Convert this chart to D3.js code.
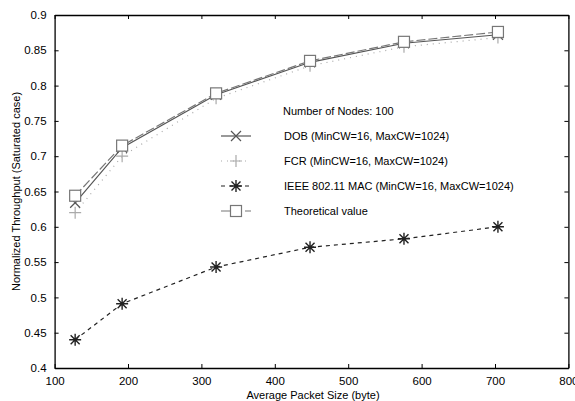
<!DOCTYPE html>
<html>
<head>
<meta charset="utf-8">
<script src="https://cdn.jsdelivr.net/npm/d3@7"></script>
<style>
  body { margin: 0; background: #fff; }
  svg text { font-family: "Liberation Sans", Arial, sans-serif; fill: #000; }
</style>
</head>
<body>
<div id="chart"></div>
<script>
var W = 575, H = 401;

// data
var packetSizes = [128, 192, 320, 448, 576, 704];
var dobValues = [0.634, 0.712, 0.787, 0.833, 0.860, 0.872];
var fcrValues = [0.620, 0.700, 0.782, 0.828, 0.855, 0.868];
var ieeeValues = [0.440, 0.491, 0.543, 0.571, 0.583, 0.600];
var theoryValues = [0.644, 0.715, 0.789, 0.835, 0.862, 0.876];

var xTicks = [100, 200, 300, 400, 500, 600, 700, 800];
var yTicks = [0.4, 0.45, 0.5, 0.55, 0.6, 0.65, 0.7, 0.75, 0.8, 0.85, 0.9];

var legendTitle = 'Number of Nodes: 100';
var seriesNames = ['DOB (MinCW=16, MaxCW=1024)', 'FCR (MinCW=16, MaxCW=1024)',
  'IEEE 802.11 MAC (MinCW=16, MaxCW=1024)', 'Theoretical value'];

var series = [
  { name: seriesNames[0], values: dobValues, color: '#555', dash: null, marker: 'x' },
  { name: seriesNames[1], values: fcrValues, color: '#aaa', dash: '1,5', marker: 'plus' },
  { name: seriesNames[2], values: ieeeValues, color: '#222', dash: '4,4', marker: 'star' },
  { name: seriesNames[3], values: theoryValues, color: '#777', dash: '9,3', marker: 'square' }
];

// plot box (window.top is read-only, so no "top" here)
var plotL = 54.6, plotR = 568.4, plotT = 15, plotB = 368;

var x = d3.scaleLinear().domain([100, 800]).range([plotL, plotR]);
var y = d3.scaleLinear().domain([0.4, 0.9]).range([plotB, plotT]);

var svg = d3.select('#chart').append('svg')
  .attr('width', W).attr('height', H);

// axes: ticks inside, mirrored top/right
var fmt = function(d) { return String(+d.toFixed(2)); };
svg.append('g').attr('transform', 'translate(0,' + plotB + ')')
  .call(d3.axisBottom(x).tickValues(xTicks).tickSizeInner(-4).tickSizeOuter(0).tickPadding(9));
svg.append('g').attr('transform', 'translate(' + plotL + ',0)')
  .call(d3.axisLeft(y).tickValues(yTicks).tickSizeInner(-4).tickSizeOuter(0).tickPadding(8).tickFormat(fmt));
svg.append('g').attr('transform', 'translate(0,' + plotT + ')')
  .call(d3.axisTop(x).tickValues(xTicks).tickSizeInner(-4).tickSizeOuter(0).tickFormat(''));
svg.append('g').attr('transform', 'translate(' + plotR + ',0)')
  .call(d3.axisRight(y).tickValues(yTicks).tickSizeInner(-4).tickSizeOuter(0).tickFormat(''));

svg.selectAll('.domain').attr('stroke', '#000').attr('stroke-width', 1.3);
svg.selectAll('.tick line').attr('stroke', '#000').attr('stroke-width', 1);
svg.selectAll('.tick text').style('font-size', '11.5px');

svg.append('text')
  .attr('x', 313).attr('y', 399)
  .attr('text-anchor', 'middle')
  .style('font-size', '11px')
  .text('Average Packet Size (byte)');

svg.append('text')
  .attr('transform', 'translate(20,' + ((plotT + plotB) / 2) + ') rotate(-90)')
  .attr('text-anchor', 'middle')
  .style('font-size', '11px')
  .text('Normalized Throughput (Saturated case)');

var drawMarker = function(g, type, cx, cy, color) {
  var m = g.append('g').attr('transform', 'translate(' + cx + ',' + cy + ')')
    .attr('stroke', color).attr('fill', 'none').attr('stroke-width', 1.2);
  if (type == 'x') {
    m.append('path').attr('d', 'M-5,-5L5,5M-5,5L5,-5');
  } else if (type == 'plus') {
    m.append('path').attr('d', 'M-6,0L6,0M0,-6L0,6');
  } else if (type == 'star') {
    m.attr('stroke-width', 1.4);
    m.append('path').attr('d', 'M-6,0L6,0M0,-6L0,6M-4.5,-4.5L4.5,4.5M-4.5,4.5L4.5,-4.5');
  } else if (type == 'square') {
    m.append('rect').attr('x', -5.5).attr('y', -5.5).attr('width', 11).attr('height', 11)
      .attr('fill', '#fff');
  }
};

var line = d3.line()
  .x(function(d) { return x(d[0]); })
  .y(function(d) { return y(d[1]); });

series.forEach(function(s) {
  var pts = packetSizes.map(function(p, i) { return [p, s.values[i]]; });
  svg.append('path')
    .datum(pts)
    .attr('d', line)
    .attr('fill', 'none')
    .attr('stroke', s.color)
    .attr('stroke-width', 1.2)
    .attr('stroke-dasharray', s.dash);
});
series.forEach(function(s) {
  packetSizes.forEach(function(p, i) {
    drawMarker(svg, s.marker, x(p), y(s.values[i]), s.color);
  });
});

// legend
var lg = svg.append('g');
lg.append('text').attr('x', 283).attr('y', 115).style('font-size', '11px').text(legendTitle);
series.forEach(function(s, i) {
  var ly = 136 + i * 25;
  lg.append('line')
    .attr('x1', 221).attr('x2', 251).attr('y1', ly).attr('y2', ly)
    .attr('stroke', s.color).attr('stroke-width', 1.2)
    .attr('stroke-dasharray', s.dash);
  drawMarker(lg, s.marker, 236, ly, s.color);
  lg.append('text').attr('x', 284).attr('y', ly + 4).style('font-size', '11px').text(s.name);
});
</script>
</body>
</html>
